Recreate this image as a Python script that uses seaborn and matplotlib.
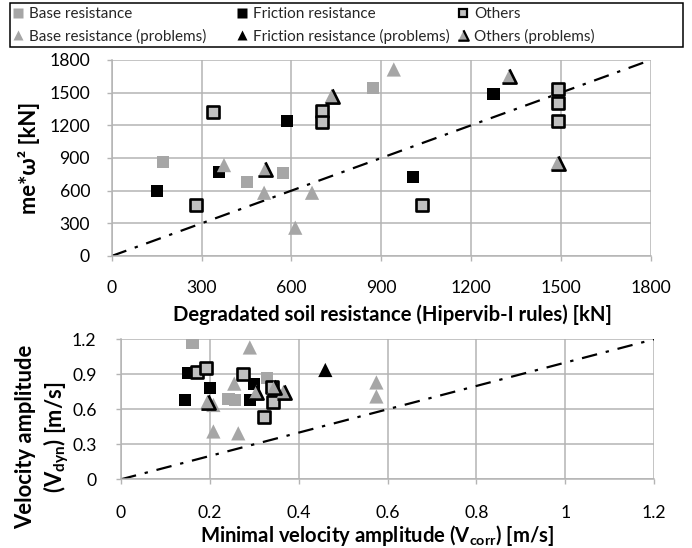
import numpy as np
import pandas as pd
import matplotlib
matplotlib.use("Agg")
import matplotlib.pyplot as plt
import seaborn as sns
from matplotlib.path import Path
from matplotlib.lines import Line2D
from matplotlib.patches import Rectangle
from matplotlib.legend_handler import HandlerTuple

# ---------------- data: top chart (kN) ----------------
top_base_x = [170, 453, 572, 872]
top_base_y = [860, 676, 758, 1544]
top_fric_x = [152, 359, 585, 1005, 1275]
top_fric_y = [596, 773, 1239, 722, 1486]
top_oth_x = [283, 339, 703, 703, 1035, 1492, 1492, 1492]
top_oth_y = [465, 1318, 1330, 1232, 468, 1532, 1406, 1239]
top_basep_x = [375, 509, 613, 669, 942]
top_basep_y = [835, 581, 260, 581, 1713]
top_fricp_x = []
top_fricp_y = []
top_othp_x = [513, 735, 1328, 1489]
top_othp_y = [795, 1470, 1651, 850]
top_ref_x = [0, 1800]
top_ref_y = [0, 1800]
top_ticks = [0, 300, 600, 900, 1200, 1500, 1800]
top_tick_labels = ["0", "300", "600", "900", "1200", "1500", "1800"]

# ---------------- data: bottom chart (m/s) ----------------
bot_base_x = [0.161, 0.242, 0.257, 0.328]
bot_base_y = [1.17, 0.688, 0.68, 0.865]
bot_fric_x = [0.143, 0.152, 0.20, 0.29, 0.30]
bot_fric_y = [0.68, 0.913, 0.78, 0.68, 0.817]
bot_oth_x = [0.17, 0.191, 0.274, 0.322, 0.343, 0.34]
bot_oth_y = [0.917, 0.951, 0.902, 0.531, 0.665, 0.79]
bot_basep_x = [0.208, 0.208, 0.255, 0.264, 0.29, 0.575, 0.575]
bot_basep_y = [0.637, 0.41, 0.82, 0.394, 1.13, 0.83, 0.71]
bot_fricp_x = [0.46]
bot_fricp_y = [0.937]
bot_othp_x = [0.195, 0.305, 0.345, 0.366]
bot_othp_y = [0.665, 0.75, 0.79, 0.75]
bot_ref_x = [0, 1.2]
bot_ref_y = [0, 1.2]
bot_xticks = [0, 0.2, 0.4, 0.6, 0.8, 1.0, 1.2]
bot_xtick_labels = ["0", "0.2", "0.4", "0.6", "0.8", "1", "1.2"]
bot_yticks = [0, 0.3, 0.6, 0.9, 1.2]
bot_ytick_labels = ["0", "0.3", "0.6", "0.9", "1.2"]

legend_labels = ["Base resistance", "Base resistance (problems)",
                 "Friction resistance", "Friction resistance (problems)",
                 "Others", "Others (problems)"]

# ---------------- style ----------------
sns.set_theme(style="white")
plt.rcParams["font.family"] = ["Lato", "DejaVu Sans"]
plt.rcParams["mathtext.default"] = "regular"

GRAY = "#a6a6a6"
OTH_FACE = "#c0c0c0"
GRID = "#b4b4b4"
EDGE_PATH = Path([(-1, -1), (1, -1), (0, 1)],
                 [Path.MOVETO, Path.LINETO, Path.LINETO])

fig = plt.figure(figsize=(6.92, 5.48), dpi=100)
ax1 = fig.add_axes([111.7 / 692, 1 - 256 / 548, 539 / 692, 196 / 548])
ax2 = fig.add_axes([121 / 692, 1 - 479.3 / 548, 533 / 692, 140 / 548])


def draw(ax, bx, by, fx, fy, ox, oy, bpx, bpy, fpx, fpy, opx, opy, rx, ry):
    sns.lineplot(x=rx, y=ry, ax=ax, color="black", lw=1.6,
                 linestyle=(0, (7, 4, 1.5, 4)), zorder=2)
    sns.scatterplot(x=bx, y=by, ax=ax, marker="s", s=75, color=GRAY,
                    edgecolor="none", zorder=3)
    sns.scatterplot(x=fx, y=fy, ax=ax, marker="s", s=75, color="black",
                    edgecolor="none", zorder=3)
    sns.scatterplot(x=ox, y=oy, ax=ax, marker="s", s=70, color=OTH_FACE,
                    edgecolor="black", linewidth=1.9, zorder=4)
    sns.scatterplot(x=bpx, y=bpy, ax=ax, marker="^", s=105, color=GRAY,
                    edgecolor="none", zorder=5)
    if len(fpx):
        sns.scatterplot(x=fpx, y=fpy, ax=ax, marker="^", s=105, color="black",
                        edgecolor="none", zorder=5)
    sns.scatterplot(x=opx, y=opy, ax=ax, marker="^", s=105, color=GRAY,
                    edgecolor="none", zorder=6)
    ax.plot(opx, opy, ls="none", marker=EDGE_PATH, ms=10.2, mfc="none",
            mec="black", mew=1.9, zorder=7)


draw(ax1, top_base_x, top_base_y, top_fric_x, top_fric_y, top_oth_x, top_oth_y,
     top_basep_x, top_basep_y, top_fricp_x, top_fricp_y, top_othp_x, top_othp_y,
     top_ref_x, top_ref_y)
draw(ax2, bot_base_x, bot_base_y, bot_fric_x, bot_fric_y, bot_oth_x, bot_oth_y,
     bot_basep_x, bot_basep_y, bot_fricp_x, bot_fricp_y, bot_othp_x, bot_othp_y,
     bot_ref_x, bot_ref_y)

ax1.set_xlim(0, 1800)
ax1.set_ylim(0, 1800)
ax1.set_xticks(top_ticks)
ax1.set_xticklabels(top_tick_labels)
ax1.set_yticks(top_ticks)
ax1.set_yticklabels(top_tick_labels)

ax2.set_xlim(0, 1.2)
ax2.set_ylim(0, 1.2)
ax2.set_xticks(bot_xticks)
ax2.set_xticklabels(bot_xtick_labels)
ax2.set_yticks(bot_yticks)
ax2.set_yticklabels(bot_ytick_labels)

for ax, xpad, ypad in [(ax1, 14, 12), (ax2, 15, 14)]:
    ax.grid(True, color=GRID, lw=1.1)
    ax.set_axisbelow(True)
    for side in ["top", "right"]:
        ax.spines[side].set_visible(False)
    for side in ["left", "bottom"]:
        ax.spines[side].set_color(GRID)
        ax.spines[side].set_linewidth(1.1)
    ax.tick_params(axis="both", which="major", bottom=True, left=True,
                   direction="out", length=3.6, width=1.0, color=GRID,
                   labelsize=12.7, labelcolor="black")
    ax.tick_params(axis="x", pad=xpad)
    ax.tick_params(axis="y", pad=ypad)
    ax.set_xlabel("")
    ax.set_ylabel("")

# axis titles
xlab_kw = dict(fontsize=14.6, fontweight="bold", color="black")
ylab_kw = dict(fontsize=15.8, fontweight="bold", color="black")
fig.text(392 / 692, 1 - 315 / 548,
         "Degradated soil resistance (Hipervib-I rules) [kN]",
         ha="center", va="center", **xlab_kw)
fig.text(29 / 692, 1 - 158 / 548, "me*ω² [kN]", rotation=90,
         ha="center", va="center", **ylab_kw)
fig.text(377 / 692, 1 - 536 / 548,
         "Minimal velocity amplitude (V$_{corr}$) [m/s]",
         ha="center", va="center", **xlab_kw)
fig.text(43 / 692, 1 - 437 / 548, "Velocity amplitude\n(V$_{dyn}$) [m/s]",
         rotation=90, ha="center", va="center", multialignment="center",
         linespacing=1.2, **ylab_kw)

# legend: frame box + three columns
fig.add_artist(Rectangle((10 / 692, 1 - 47 / 548), 673 / 692, 44 / 548,
                         transform=fig.transFigure, fill=False,
                         edgecolor="black", lw=1.1, zorder=10))
hms = 6.5
h_base = Line2D([], [], ls="none", marker="s", ms=hms, mfc=GRAY, mec="none")
h_fric = Line2D([], [], ls="none", marker="s", ms=hms, mfc="black", mec="none")
h_oth = Line2D([], [], ls="none", marker="s", ms=hms - 0.5, mfc=OTH_FACE,
               mec="black", mew=1.6)
h_basep = Line2D([], [], ls="none", marker="^", ms=hms, mfc=GRAY, mec="none")
h_fricp = Line2D([], [], ls="none", marker="^", ms=hms, mfc="black", mec="none")
h_othp = (Line2D([], [], ls="none", marker="^", ms=hms + 1, mfc=GRAY, mec="none"),
          Line2D([], [], ls="none", marker=EDGE_PATH, ms=hms + 1, mfc="none",
                 mec="black", mew=1.6))
handles = [h_base, h_basep, h_fric, h_fricp, h_oth, h_othp]
col_x = [7 / 692, 231 / 692, 452 / 692]
for i, cx in enumerate(col_x):
    lg = fig.legend(handles[2 * i:2 * i + 2], legend_labels[2 * i:2 * i + 2],
                    loc="upper left", bbox_to_anchor=(cx, 1 - 2.5 / 548),
                    borderaxespad=0, fontsize=11, frameon=False,
                    handlelength=0.8, handletextpad=0.35, labelspacing=0.5,
                    borderpad=0.3,
                    handler_map={tuple: HandlerTuple(ndivide=1)})

fig.savefig("out.png", dpi=100)
